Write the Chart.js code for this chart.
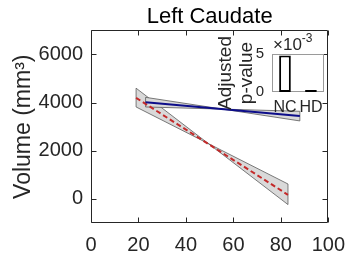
<!DOCTYPE html>
<html>
<head>
<meta charset="utf-8">
<script src="https://cdn.jsdelivr.net/npm/chart.js@4.4.1/dist/chart.umd.min.js"></script>
<style>
  html, body { margin: 0; padding: 0; background: #fff; }
  #wrap { position: relative; width: 355px; height: 254px; }
  #main { position: absolute; left: 0; top: 0; }
  #inset { position: absolute; left: 200px; top: 20px; }
</style>
</head>
<body>
<div id="wrap">
  <canvas id="main" width="355" height="254"></canvas>
  <canvas id="inset" width="130" height="100"></canvas>
</div>
<script>
// main axes ticks
const xTicks = [0, 20, 40, 60, 80, 100];
const yTicks = [0, 2000, 4000, 6000];

// NC fit + confidence patch (edge a: top-left to bottom-right, edge b: bottom-left to top-right)
const ageNC = [23, 88];
const fitNC = [4020, 3440];
const ciNCa = [4220, 3240];
const ciNCb = [3820, 3640];

// HD fit + confidence patch
const ageHD = [19, 83];
const fitHD = [4200, 170];
const ciHDa = [4600, -235];
const ciHDb = [3820, 620];

// inset: adjusted p-values
const groups = ["NC", "HD"];
const pValues = [0.0048, 0.00008];
const pTicks = [0, 0.005];

const FONT = "'Liberation Sans', Arial, sans-serif";
const INK = "#262626";
const NONE = "rgba(0,0,0,0)";

const pts = (xs, ys) => xs.map((x, i) => ({ x: x, y: ys[i] }));
const outline = (xs, a, b) => [
  { x: xs[0], y: a[0] },
  { x: xs[1], y: a[1] },
  { x: xs[1], y: b[1] },
  { x: xs[0], y: b[0] },
  { x: xs[0], y: a[0] },
];

const band = (xs, a, b, order) => [
  { data: pts(xs, a), borderColor: NONE, borderWidth: 0, pointRadius: 0, fill: false, order: order + 2 },
  { data: pts(xs, b), borderColor: NONE, borderWidth: 0, pointRadius: 0, fill: "-1", backgroundColor: "#d9d9d9", order: order + 1 },
  { data: outline(xs, a, b), borderColor: "#5a5a5a", borderWidth: 0.8, pointRadius: 0, fill: false, order: order },
];

const boxTicks = {
  id: "boxTicks",
  afterDraw(chart) {
    const { ctx, chartArea: a, scales } = chart;
    const L = Math.round(a.left) + 0.5, R = Math.round(a.right) - 0.5;
    const T = Math.round(a.top) + 0.5, B = Math.round(a.bottom) - 0.5;
    ctx.save();
    ctx.strokeStyle = INK;
    ctx.lineWidth = 1;
    ctx.beginPath();
    scales.x.ticks.forEach((t) => {
      const px = Math.round(scales.x.getPixelForValue(t.value)) + 0.5;
      ctx.moveTo(px, B); ctx.lineTo(px, B - 5);
      ctx.moveTo(px, T); ctx.lineTo(px, T + 5);
    });
    scales.y.ticks.forEach((t) => {
      const py = Math.round(scales.y.getPixelForValue(t.value)) + 0.5;
      ctx.moveTo(L, py); ctx.lineTo(L + 5, py);
      ctx.moveTo(R, py); ctx.lineTo(R - 5, py);
    });
    ctx.rect(L, T, R - L, B - T);
    ctx.stroke();
    ctx.restore();
  },
};

new Chart(document.getElementById("main"), {
  type: "line",
  data: {
    datasets: [
      {
        data: pts(ageNC, fitNC),
        borderColor: "#0d0d8a",
        borderWidth: 2,
        pointRadius: 0,
        fill: false,
        order: 1,
      },
      {
        data: pts(ageHD, fitHD),
        borderColor: "#c42a2a",
        borderWidth: 2,
        borderDash: [5, 3],
        pointRadius: 0,
        fill: false,
        order: 2,
      },
      ...band(ageNC, ciNCa, ciNCb, 5),
      ...band(ageHD, ciHDa, ciHDb, 10),
    ],
  },
  options: {
    responsive: false,
    animation: false,
    layout: { padding: { left: 0, right: 17, top: 0, bottom: 0 } },
    plugins: {
      legend: { display: false },
      tooltip: { enabled: false },
      title: {
        display: true,
        text: "Left Caudate",
        color: "#000",
        fullSize: false,
        font: { family: FONT, size: 22, weight: "normal" },
        padding: { top: 4, bottom: 0 },
      },
    },
    scales: {
      x: {
        type: "linear",
        min: 0,
        max: 100,
        afterBuildTicks: (s) => { s.ticks = xTicks.map((v) => ({ value: v })); },
        afterFit: (s) => { s.height = 31; },
        grid: { display: false, drawTicks: false },
        border: { display: false },
        ticks: { color: INK, font: { family: FONT, size: 20 }, padding: 10, maxRotation: 0, autoSkip: false, callback: (v) => String(v) },
      },
      y: {
        min: -1000,
        max: 7000,
        afterBuildTicks: (s) => { s.ticks = yTicks.map((v) => ({ value: v })); },
        afterFit: (s) => { s.width = 91; },
        grid: { display: false, drawTicks: false },
        border: { display: false },
        ticks: { color: INK, font: { family: FONT, size: 20 }, padding: 8, callback: (v) => String(v) },
        title: {
          display: true,
          text: "Volume (mm\u00b3)",
          color: INK,
          font: { family: FONT, size: 23 },
          padding: { top: 10, bottom: 0 },
        },
      },
    },
  },
  plugins: [boxTicks],
});

const insetDecor = {
  id: "insetDecor",
  beforeDatasetsDraw(chart) {
    const { ctx, chartArea: a } = chart;
    ctx.save();
    ctx.strokeStyle = "#9a9a9a";
    ctx.lineWidth = 1;
    ctx.strokeRect(Math.round(a.left) + 0.5, Math.round(a.top) + 0.5,
      Math.round(a.right - a.left) - 1, Math.round(a.bottom - a.top) - 1);
    ctx.restore();
  },
  afterDraw(chart) {
    const { ctx, chartArea: a } = chart;
    ctx.save();
    ctx.fillStyle = INK;
    // multiplier
    ctx.font = "17px " + FONT;
    ctx.textBaseline = "alphabetic";
    ctx.fillText("\u00d710", a.left + 1, a.top - 4);
    const w = ctx.measureText("\u00d710").width;
    ctx.font = "12px " + FONT;
    ctx.fillText("-3", a.left + 1 + w, a.top - 12);
    // rotated axis label
    const mid = (a.top + a.bottom) / 2;
    ctx.font = "19px " + FONT;
    ctx.textAlign = "center";
    ctx.textBaseline = "middle";
    [["Adjusted", 26], ["p-value", 47]].forEach(([txt, x]) => {
      ctx.save();
      ctx.translate(x, mid);
      ctx.rotate(-Math.PI / 2);
      ctx.fillText(txt, 0, 0);
      ctx.restore();
    });
    ctx.restore();
  },
};

new Chart(document.getElementById("inset"), {
  type: "bar",
  data: {
    labels: groups,
    datasets: [
      {
        data: pValues,
        backgroundColor: "#fff",
        borderColor: "#000",
        borderWidth: 2,
        borderSkipped: false,
        barPercentage: 0.5,
        categoryPercentage: 0.9,
        minBarLength: 2,
      },
    ],
  },
  options: {
    responsive: false,
    animation: false,
    layout: { padding: { left: 0, right: 6, top: 34, bottom: 0 } },
    plugins: { legend: { display: false }, tooltip: { enabled: false } },
    scales: {
      x: {
        grid: { display: false, drawTicks: false },
        border: { display: false },
        afterFit: (s) => { s.height = 28; },
        ticks: { color: INK, font: { family: FONT, size: 16 }, padding: 6, maxRotation: 0, minRotation: 0, autoSkip: false },
      },
      y: {
        min: 0,
        max: 0.005,
        afterBuildTicks: (s) => { s.ticks = pTicks.map((v) => ({ value: v })); },
        afterFit: (s) => { s.width = 72; },
        grid: { display: false, drawTicks: false },
        border: { display: false },
        ticks: { color: INK, font: { family: FONT, size: 15 }, padding: 8, callback: (v) => Math.round(v * 1000) },
      },
    },
  },
  plugins: [insetDecor],
});
</script>
</body>
</html>
